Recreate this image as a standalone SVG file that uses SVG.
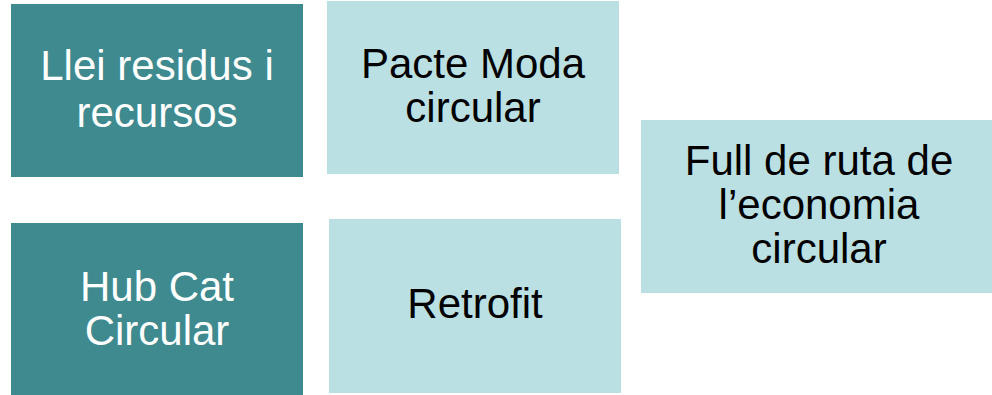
<svg xmlns="http://www.w3.org/2000/svg" width="992" height="395" viewBox="0 0 992 395">
<style>
.dark{fill:#3E8A8F}
.light{fill:#BBE0E3}
text{font-family:"Liberation Sans",Arial,sans-serif;font-size:42px;text-anchor:middle}
.w{fill:#FFFFFF}
.b{fill:#000000}
</style>
<rect width="992" height="395" fill="#FFFFFF"/>
<g id="connectors"></g>
<g id="node-llei">
<rect class="dark" x="11" y="4" width="292" height="173"/>
<text class="w" x="157" y="80">Llei residus i</text>
<text class="w" x="157" y="127">recursos</text>
</g>
<g id="node-pacte">
<rect class="light" x="327" y="1" width="292" height="173"/>
<text class="b" x="473" y="78">Pacte Moda</text>
<text class="b" x="473" y="122">circular</text>
</g>
<g id="node-full">
<rect class="light" x="641" y="120" width="351" height="173"/>
<text class="b" x="819" y="175">Full de ruta de</text>
<text class="b" x="819" y="219">l’economia</text>
<text class="b" x="819" y="263">circular</text>
</g>
<g id="node-hub">
<rect class="dark" x="11" y="223" width="292" height="172"/>
<text class="w" x="157" y="301">Hub Cat</text>
<text class="w" x="157" y="345">Circular</text>
</g>
<g id="node-retrofit">
<rect class="light" x="329" y="219" width="292" height="174"/>
<text class="b" x="475" y="318">Retrofit</text>
</g>
</svg>
